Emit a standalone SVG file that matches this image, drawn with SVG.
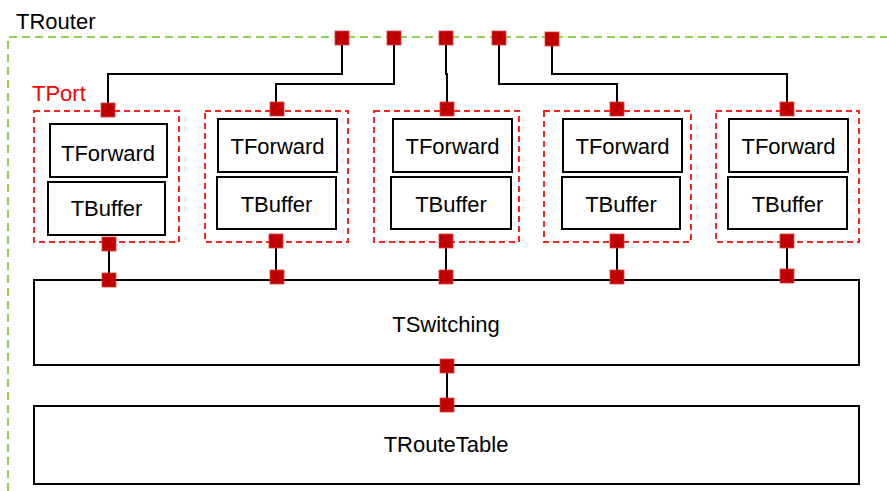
<svg xmlns="http://www.w3.org/2000/svg" width="887" height="491" viewBox="0 0 887 491">
<style>
text{font-family:"Liberation Sans",Arial,sans-serif;font-size:22px;fill:#000;text-anchor:middle}
.box{fill:#fff;stroke:#000;stroke-width:2}
.port{fill:none;stroke:#ff2020;stroke-width:2;stroke-dasharray:6,4}
.sq{fill:#c00000;stroke:#e04040;stroke-width:0.8}
.wire{fill:none;stroke:#000;stroke-width:2}
</style>
<rect width="887" height="491" fill="#fff"/>
<g id="TRouter">
<path d="M8,491 V37 H887" fill="none" stroke="#92d050" stroke-width="2" stroke-dasharray="8,5"/>
<text x="16" y="29" style="text-anchor:start">TRouter</text>
</g>
<g id="TSwitching">
<rect class="box" x="34" y="280" width="825" height="85"/>
<text x="446" y="332">TSwitching</text>
</g>
<g id="TRouteTable">
<rect class="box" x="34" y="406" width="825" height="78"/>
<text x="446" y="452">TRouteTable</text>
</g>
<g id="connectors">
<path class="wire" d="M342,38 V74 H108 V110"/>
<path class="wire" d="M394,38 V84 H276 V109"/>
<path class="wire" d="M446,38 V74 H447 V109"/>
<path class="wire" d="M499,38 V84 H617 V109"/>
<path class="wire" d="M552,38 V74 H787 V109"/>
<path class="wire" d="M109,244 V280"/>
<path class="wire" d="M276,241 V277"/>
<path class="wire" d="M446,241 V277"/>
<path class="wire" d="M617,241 V277"/>
<path class="wire" d="M787,241 V276"/>
<path class="wire" d="M447,366 V405"/>
</g>
<g id="Port1">
<rect class="port" x="34" y="111" width="145" height="131"/>
<text x="32" y="101" style="text-anchor:start;fill:#ff0000">TPort</text>
<g id="P1Forward"><rect class="box" x="50" y="124" width="117" height="53"/><text x="108" y="161">TForward</text></g>
<g id="P1Buffer"><rect class="box" x="48" y="182" width="117" height="53"/><text x="106.5" y="216">TBuffer</text></g>
</g>
<g id="Port2">
<rect class="port" x="205" y="111" width="143" height="131"/>
<g id="P2Forward"><rect class="box" x="218" y="119" width="119" height="53"/><text x="277.5" y="154">TForward</text></g>
<g id="P2Buffer"><rect class="box" x="217" y="177" width="119" height="52"/><text x="276.5" y="212">TBuffer</text></g>
</g>
<g id="Port3">
<rect class="port" x="374" y="111" width="145" height="131"/>
<g id="P3Forward"><rect class="box" x="393" y="119" width="119" height="53"/><text x="452.5" y="154">TForward</text></g>
<g id="P3Buffer"><rect class="box" x="391" y="177" width="120" height="52"/><text x="451" y="212">TBuffer</text></g>
</g>
<g id="Port4">
<rect class="port" x="544" y="111" width="147" height="131"/>
<g id="P4Forward"><rect class="box" x="563" y="119" width="119" height="53"/><text x="622.5" y="154">TForward</text></g>
<g id="P4Buffer"><rect class="box" x="562" y="177" width="118" height="52"/><text x="621" y="212">TBuffer</text></g>
</g>
<g id="Port5">
<rect class="port" x="716" y="111" width="143" height="131"/>
<g id="P5Forward"><rect class="box" x="729" y="119" width="119" height="53"/><text x="788.5" y="154">TForward</text></g>
<g id="P5Buffer"><rect class="box" x="728" y="177" width="119" height="52"/><text x="787.5" y="212">TBuffer</text></g>
</g>
<g id="ports">
<rect class="sq" x="335" y="31" width="14" height="14"/>
<rect class="sq" x="387" y="31" width="14" height="14"/>
<rect class="sq" x="439" y="31" width="14" height="14"/>
<rect class="sq" x="492" y="31" width="14" height="14"/>
<rect class="sq" x="545" y="32" width="14" height="14"/>
<rect class="sq" x="101" y="103" width="14" height="14"/>
<rect class="sq" x="270" y="102" width="14" height="14"/>
<rect class="sq" x="440" y="102" width="14" height="14"/>
<rect class="sq" x="610" y="102" width="14" height="14"/>
<rect class="sq" x="780" y="102" width="14" height="14"/>
<rect class="sq" x="102" y="237" width="14" height="14"/>
<rect class="sq" x="269" y="234" width="14" height="14"/>
<rect class="sq" x="439" y="234" width="14" height="14"/>
<rect class="sq" x="610" y="234" width="14" height="14"/>
<rect class="sq" x="780" y="234" width="14" height="14"/>
<rect class="sq" x="102" y="273" width="14" height="14"/>
<rect class="sq" x="270" y="270" width="14" height="14"/>
<rect class="sq" x="439" y="270" width="14" height="14"/>
<rect class="sq" x="610" y="270" width="14" height="14"/>
<rect class="sq" x="780" y="269" width="14" height="14"/>
<rect class="sq" x="440" y="359" width="14" height="14"/>
<rect class="sq" x="440" y="398" width="14" height="14"/>
</g>
</svg>
